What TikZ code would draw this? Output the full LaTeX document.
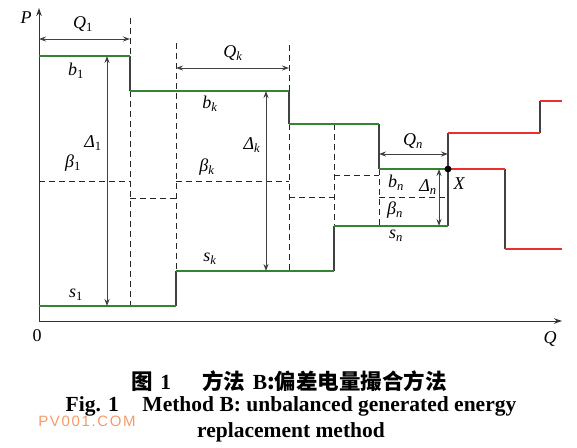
\documentclass[tikz,border=0pt]{standalone}
\usepackage{fontspec}
\setmainfont{Liberation Serif}
\newfontfamily\cjk{Noto Sans CJK SC}
\newfontfamily\wmfont{Liberation Sans}[LetterSpace=11]
\usetikzlibrary{arrows.meta}
\definecolor{grn}{RGB}{52,132,52}
\definecolor{rd}{RGB}{238,45,45}
\definecolor{ln}{RGB}{65,65,65}
\definecolor{wm}{RGB}{245,155,105}
\newcommand\lb[2]{\textit{#1}\textsubscript{#2}}
\tikzset{
 stepg/.style={grn,line width=2pt},
 stepr/.style={rd,line width=2pt},
 riser/.style={ln,line width=1.3pt},
 dsh/.style={black!85,line width=1pt,dash pattern=on 6pt off 4pt},
 dimarrow/.style={ln,line width=1pt,{Stealth[length=7pt,width=5pt]}-{Stealth[length=7pt,width=5pt]}},
 lbl/.style={font=\fontsize{18}{18}\selectfont\itshape, inner sep=0pt},
 axisline/.style={black!80,line width=1pt,-{Stealth[length=8pt,width=5.5pt]}},
 capfont/.style={font=\fontsize{21.5}{21.5}\selectfont\bfseries, inner sep=0pt}
}
\begin{document}
\begin{tikzpicture}[x=1pt,y=-1pt]
\useasboundingbox (0,0) rectangle (577,447);
% axes
\coordinate (O) at (39,321);
\coordinate (Ptop) at (39,8);
\coordinate (Qend) at (562,321);
\draw[axisline] (O) -- (Ptop);
\draw[axisline] (O) -- (Qend);
\node[lbl] (Plab) at (26,18) {P};
\node[lbl] (Qlab) at (550,339) {Q};
\node[lbl,font=\fontsize{18}{18}\selectfont] (zero) at (37,336) {0};
% dashed verticals
\draw[dsh] (130,18) -- (130,56);
\draw[dsh] (130,91) -- (130,306);
\draw[dsh] (176,43) -- (176,271);
\draw[dsh] (289,45) -- (289,91);
\draw[dsh] (289,124) -- (289,271);
\draw[dsh] (334,124) -- (334,226);
\draw[dsh] (379,169) -- (379,226);
% dashed horizontals (beta levels)
\draw[dsh] (39,181) -- (130,181);
\draw[dsh] (130,198) -- (176,198);
\draw[dsh] (176,181) -- (289,181);
\draw[dsh] (289,197) -- (334,197);
\draw[dsh] (334,175) -- (379,175);
\draw[dsh] (379,197) -- (448,197);
% risers
\draw[riser] (130,56) -- (130,91);
\draw[riser] (289,91) -- (289,124);
\draw[riser] (379,124) -- (379,169);
\draw[riser] (176,306) -- (176,271);
\draw[riser] (334,271) -- (334,226);
\draw[riser] (448,133) -- (448,226);
\draw[riser] (505,169) -- (505,249);
\draw[riser] (540,133) -- (540,101);
% green steps
\draw[stepg] (39,56) -- (130,56);
\draw[stepg] (130,91) -- (289,91);
\draw[stepg] (289,124) -- (379,124);
\draw[stepg] (379,169) -- (448,169);
\draw[stepg] (39,306) -- (176,306);
\draw[stepg] (176,271) -- (334,271);
\draw[stepg] (334,226) -- (448,226);
% red steps
\draw[stepr] (448,169) -- (505,169);
\draw[stepr] (505,249) -- (562,249);
\draw[stepr] (448,133) -- (540,133);
\draw[stepr] (540,101) -- (562,101);
% dimension arrows
\coordinate (q1a) at (39,39); \coordinate (q1b) at (130,39);
\coordinate (qka) at (176,68); \coordinate (qkb) at (289,68);
\coordinate (qna) at (379,154); \coordinate (qnb) at (448,154);
\coordinate (d1a) at (107,56); \coordinate (d1b) at (107,306);
\coordinate (dka) at (266,91); \coordinate (dkb) at (266,271);
\coordinate (dna) at (439,169); \coordinate (dnb) at (439,226);
\draw[dimarrow] (q1a) -- (q1b);
\draw[dimarrow] (qka) -- (qkb);
\draw[dimarrow] (qna) -- (qnb);
\draw[dimarrow] (d1a) -- (d1b);
\draw[dimarrow] (dka) -- (dkb);
\draw[dimarrow] (dna) -- (dnb);
% point X
\fill (448,169) circle (3.4);
% labels
\node[lbl] (Q1) at (83,24) {\lb{Q}{\textup{1}}};
\node[lbl] (b1) at (76,71) {\lb{b}{\textup{1}}};
\node[lbl] (D1) at (93,143) {\lb{Δ}{\textup{1}}};
\node[lbl] (B1) at (73,163) {\lb{β}{\textup{1}}};
\node[lbl] (s1) at (76,295) {\lb{s}{\textup{1}}};
\node[lbl] (Qk) at (233,53) {\lb{Q}{k}};
\node[lbl] (bk) at (210,104) {\lb{b}{k}};
\node[lbl] (Dk) at (252,145) {\lb{Δ}{k}};
\node[lbl] (Bk) at (207,167) {\lb{β}{k}};
\node[lbl] (sk) at (210,259) {\lb{s}{k}};
\node[lbl] (Qn) at (413,141) {\lb{Q}{n}};
\node[lbl] (bn) at (396,183) {\lb{b}{n}};
\node[lbl] (Dn) at (428,187) {\lb{Δ}{n}};
\node[lbl] (Bn) at (395,210) {\lb{β}{n}};
\node[lbl] (sn) at (396,236) {\lb{s}{n}};
\node[lbl] (X) at (459,184) {X};
% caption
\node[capfont] (cap1) at (289,381) {{\cjk 图}\hspace{0.35em}1\hspace{1.45em}{\cjk 方法}\hspace{0.35em}B{\cjk :偏差电量撮合方法}};
\node[capfont] (cap2) at (291,406) {Fig. 1\hspace{1.1em}Method B: unbalanced generated energy};
\node[capfont] (cap3) at (291,432) {replacement method};
\node[wm,font=\wmfont\fontsize{15}{15}\selectfont,inner sep=0pt] (wmk) at (87,421) {PV001.COM};
\end{tikzpicture}
\end{document}
